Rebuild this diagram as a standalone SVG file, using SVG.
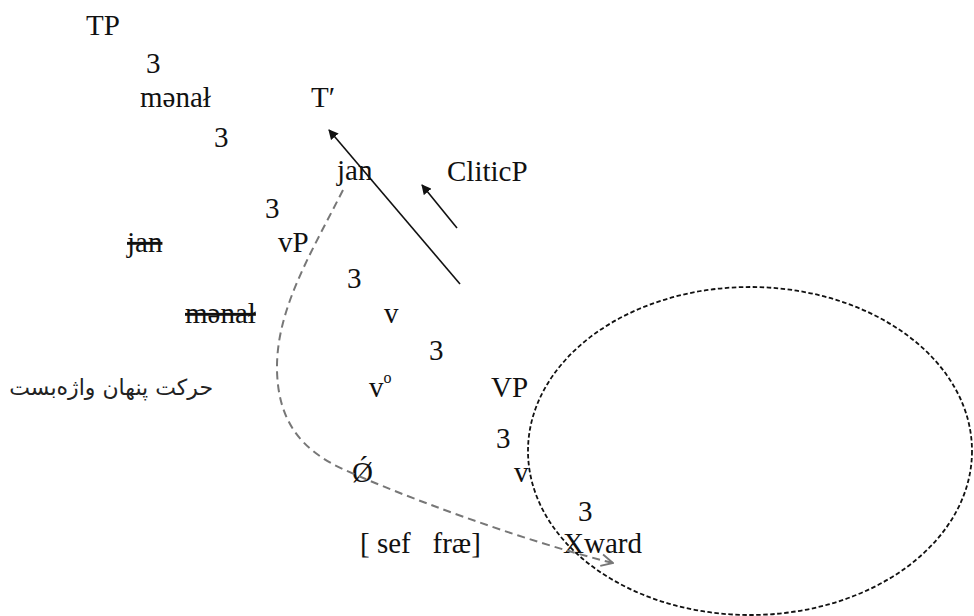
<svg xmlns="http://www.w3.org/2000/svg" width="974" height="616" viewBox="0 0 974 616">
<defs>
<style>
.t{font-family:"Liberation Serif","Times New Roman",serif;font-size:29px;fill:#111}
.s{text-decoration:line-through}
.fa{font-family:"DejaVu Sans","Noto Sans",sans-serif;font-size:22px;fill:#222}
.sol{stroke:#111;stroke-width:1.6;fill:none}
.mv{stroke:#777;stroke-width:2;fill:none;stroke-dasharray:8 5}
.ell{stroke:#111;stroke-width:1.8;fill:none;stroke-dasharray:4.5 2.5}
</style>
<marker id="ah" viewBox="0 0 10 10" refX="9" refY="5" markerWidth="10" markerHeight="10" markerUnits="userSpaceOnUse" orient="auto">
<path d="M0,0 L10,5 L0,10 z" fill="#111"/>
</marker>
<marker id="oh" viewBox="0 0 12 12" refX="11" refY="6" markerWidth="14" markerHeight="14" markerUnits="userSpaceOnUse" orient="auto">
<path d="M1,1 L11,6 L1,11" fill="none" stroke="#777" stroke-width="1.6"/>
</marker>
</defs>
<rect width="974" height="616" fill="#fff"/>
<g id="nodes">
<g id="n-TP"><text class="t" x="86" y="35">TP</text></g>
<g id="n-3a"><text class="t" x="146" y="73">3</text></g>
<g id="n-menal1"><text class="t" x="140" y="107">mənał</text></g>
<g id="n-Tbar"><text class="t" x="311" y="107">T′</text></g>
<g id="n-3b"><text class="t" x="214" y="147">3</text></g>
<g id="n-jan1"><text class="t" x="337" y="180">jan</text></g>
<g id="n-CliticP"><text class="t" x="447" y="181">CliticP</text></g>
<g id="n-3c"><text class="t" x="265" y="218">3</text></g>
<g id="n-jan2"><text class="t s" x="127" y="252">jan</text></g>
<g id="n-vP"><text class="t" x="278" y="252">vP</text></g>
<g id="n-3d"><text class="t" x="347" y="288">3</text></g>
<g id="n-menal2"><text class="t s" x="185" y="323">mənał</text></g>
<g id="n-v1"><text class="t" x="384" y="323">v</text></g>
<g id="n-3e"><text class="t" x="429" y="360">3</text></g>
<g id="n-fa"><text class="fa" x="213" y="395" text-anchor="end">حرکت پنهان واژه‌بست</text></g>
<g id="n-v0"><text class="t" x="369" y="397">v<tspan font-size="16" dy="-14">o</tspan></text></g>
<g id="n-VP"><text class="t" x="491" y="397">VP</text></g>
<g id="n-3f"><text class="t" x="496" y="448">3</text></g>
<g id="n-null"><text class="t" x="352" y="482">Ǿ</text></g>
<g id="n-v2"><text class="t" x="514" y="482">v</text></g>
<g id="n-3g"><text class="t" x="578" y="521">3</text></g>
<g id="n-sef"><text class="t" x="360" y="553" xml:space="preserve">[ sef   fræ]</text></g>
<g id="n-Xward"><text class="t" x="563" y="553">Xward</text></g>
</g>
<g id="connectors">
<line class="sol" x1="460" y1="284" x2="329" y2="130" marker-end="url(#ah)"/>
<line class="sol" x1="457" y1="228" x2="422" y2="185" marker-end="url(#ah)"/>
<path class="mv" d="M343,190 C310,255 276,310 277,370 C278,420 300,450 345,470 C400,495 520,540 613,563" marker-end="url(#oh)"/>
<ellipse class="ell" cx="750" cy="451" rx="222" ry="164"/>
</g>
</svg>
